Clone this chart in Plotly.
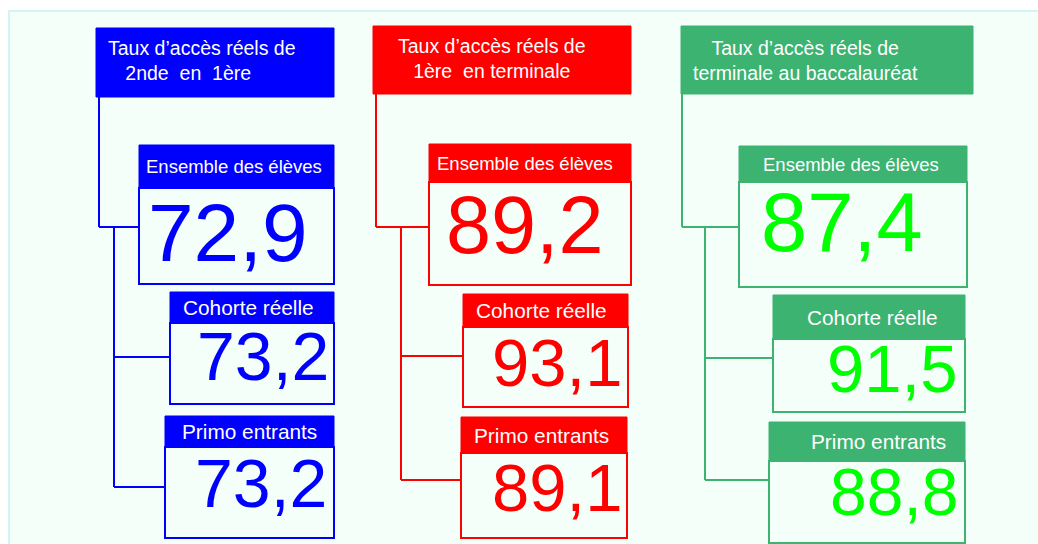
import plotly.graph_objects as go

# ---------------- data ----------------
sections = [
    "Taux d’accès réels de<br>2nde\u00a0\u00a0en\u00a0\u00a01ère" + "\u00a0" * 5,
    "Taux d’accès réels de<br>1ère\u00a0\u00a0en terminale",
    "Taux d’accès réels de<br>terminale au baccalauréat",
]
groups = ["Ensemble des élèves", "Cohorte réelle", "Primo entrants"]
acces_2nde_1ere = [72.9, 73.2, 73.2]
acces_1ere_terminale = [89.2, 93.1, 89.1]
acces_terminale_bac = [87.4, 91.5, 88.8]
values = [acces_2nde_1ere, acces_1ere_terminale, acces_terminale_bac]

# ---------------- styles / layout ----------------
box_colors = ["#0000FF", "#FF0000", "#3CB371"]
value_colors = ["#0000FF", "#FF0000", "#00FF00"]
PANEL = "#F4FFF9"
PANEL_EDGE = "#D2F4F4"
FONT = "Liberation Sans, Arial, Helvetica, sans-serif"

# title box [x0, x1, y0, y1], title text centre (x, y)
title_box = [[96, 334, 28, 97], [373, 631, 26, 94], [681, 973, 26, 94]]
title_txt = [[202, 60], [492, 58], [805, 60]]
title_size = 19.5
# per group: header [x0, x1, y0, y1], body bottom, label centre x, value centre (x, y), value font size
header_box = [
    [[139, 334, 145, 188], [170, 334, 292, 323], [165, 334, 416, 447]],
    [[429, 631, 144, 182], [463, 628, 294, 327], [461, 627, 417, 453]],
    [[739, 967, 146, 182], [773, 965, 295, 339], [769, 965, 422, 461]],
]
body_bottom = [[284, 404, 538], [285, 407, 538], [287, 412, 543]]
label_x = [[234, 248, 249], [525, 541, 541], [851, 872, 878]]
label_size = [[18.5, 20.8, 20.8], [18.5, 20.8, 20.8], [18.5, 20.8, 20.8]]
value_pos = [
    [[228, 232], [263, 356], [261, 483]],
    [[525, 225], [557, 362], [557, 487]],
    [[842, 222], [892, 368], [894, 492]],
]
value_size = [[82, 68, 68], [81, 67, 67], [83, 67, 66]]
# connectors: trunk x, branch x, join y, branch ys
trunk_x = [99, 376, 682]
branch_x = [114, 401, 705]
join_y = [227, 227, 227]
branch_y = [[357, 487], [356, 480], [358, 480]]

fig = go.Figure()
fig.add_trace(go.Scatter(x=[0, 1038], y=[0, 544], mode="markers",
                         marker=dict(opacity=0), hoverinfo="skip", showlegend=False))

shapes = []
annotations = []

# panel
shapes.append(dict(type="rect", x0=9, x1=1040, y0=11, y1=550, fillcolor=PANEL,
                   line=dict(color=PANEL_EDGE, width=2), layer="below"))

for c in range(3):
    col = box_colors[c]
    tb = title_box[c]
    # connectors
    shapes.append(dict(type="line", x0=trunk_x[c], x1=trunk_x[c], y0=tb[3], y1=join_y[c],
                       line=dict(color=col, width=2)))
    shapes.append(dict(type="line", x0=trunk_x[c], x1=header_box[c][0][0], y0=join_y[c], y1=join_y[c],
                       line=dict(color=col, width=2)))
    shapes.append(dict(type="line", x0=branch_x[c], x1=branch_x[c], y0=join_y[c], y1=branch_y[c][-1],
                       line=dict(color=col, width=2)))
    for k, by in enumerate(branch_y[c]):
        shapes.append(dict(type="line", x0=branch_x[c], x1=header_box[c][k + 1][0], y0=by, y1=by,
                           line=dict(color=col, width=2)))
    # title box
    shapes.append(dict(type="rect", x0=tb[0], x1=tb[1], y0=tb[2], y1=tb[3], fillcolor=col,
                       line=dict(color=col, width=1)))
    annotations.append(dict(x=title_txt[c][0], y=title_txt[c][1], xref="x", yref="y",
                            text=sections[c], showarrow=False, align="center",
                            xanchor="center", yanchor="middle",
                            font=dict(family=FONT, size=title_size, color="white")))
    for g in range(3):
        hb = header_box[c][g]
        shapes.append(dict(type="rect", x0=hb[0], x1=hb[1], y0=hb[3], y1=body_bottom[c][g],
                           fillcolor=PANEL, line=dict(color=col, width=2)))
        shapes.append(dict(type="rect", x0=hb[0], x1=hb[1], y0=hb[2], y1=hb[3],
                           fillcolor=col, line=dict(color=col, width=1)))
        annotations.append(dict(x=label_x[c][g], y=(hb[2] + hb[3]) / 2, xref="x", yref="y",
                                text=groups[g], showarrow=False, xanchor="center", yanchor="middle",
                                font=dict(family=FONT, size=label_size[c][g], color="white")))
        v = values[c][g]
        annotations.append(dict(x=value_pos[c][g][0], y=value_pos[c][g][1], xref="x", yref="y",
                                text=f"{v:.1f}".replace(".", ","), showarrow=False,
                                xanchor="center", yanchor="middle",
                                font=dict(family=FONT, size=value_size[c][g], color=value_colors[c])))

fig.update_layout(
    width=1038, height=544, margin=dict(l=0, r=0, t=0, b=0),
    paper_bgcolor="white", plot_bgcolor="white",
    xaxis=dict(range=[0, 1038], visible=False, fixedrange=True),
    yaxis=dict(range=[544, 0], visible=False, fixedrange=True),
    shapes=shapes, annotations=annotations, showlegend=False,
)
fig.write_html("out.html", config={"displayModeBar": False},
               post_script="document.body.style.margin='0';document.body.style.overflow='hidden';")
